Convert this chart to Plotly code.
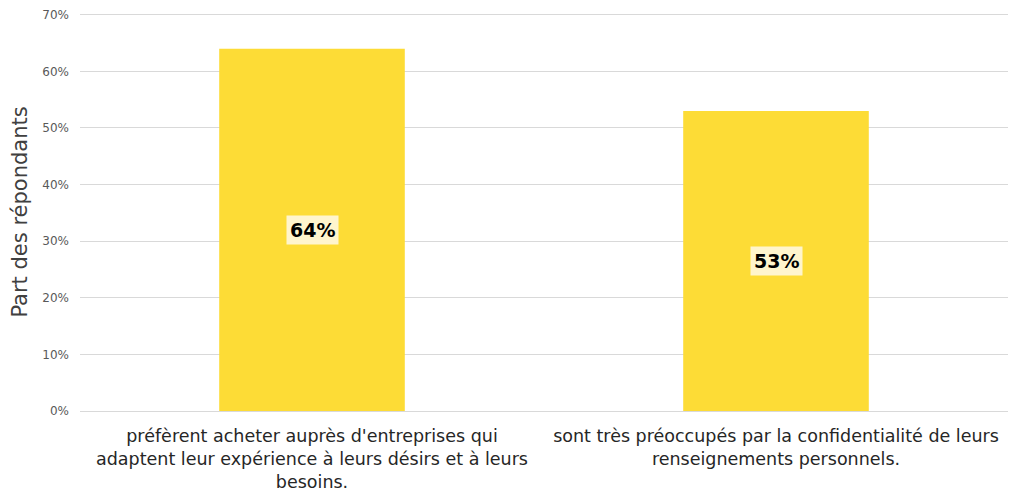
import plotly.graph_objects as go

categories = [
    "préfèrent acheter auprès d'entreprises qui<br>adaptent leur expérience à leurs désirs et à leurs<br>besoins.",
    "sont très préoccupés par la confidentialité de leurs<br>renseignements personnels.",
]
values = [64, 53]
value_labels = ["64%", "53%"]
y_ticks = [0, 10, 20, 30, 40, 50, 60, 70]
y_tick_labels = ["0%", "10%", "20%", "30%", "40%", "50%", "60%", "70%"]

FONT = "Century Gothic, DejaVu Sans, sans-serif"

fig = go.Figure()
fig.add_trace(go.Bar(
    x=categories,
    y=values,
    marker=dict(color="#FDDC36", line=dict(width=0)),
    width=0.4,
    hoverinfo="skip",
))

for c, v, t in zip(categories, values, value_labels):
    fig.add_annotation(
        x=c, y=v / 2, text="<b>" + t + "</b>", showarrow=False,
        font=dict(family=FONT, size=19, color="#000000"),
        bgcolor="rgba(255,246,214,0.95)", borderpad=3,
    )

fig.update_layout(
    width=1016, height=492,
    margin=dict(l=72, r=16, t=5, b=89),
    paper_bgcolor="white", plot_bgcolor="white",
    font=dict(family=FONT, color="#404040"),
    showlegend=False,
    bargap=0.6,
    xaxis=dict(
        automargin=False,
        tickfont=dict(family=FONT, size=17.5, color="#262626"),
        showgrid=False, showline=True, linecolor="#d9d9d9", linewidth=1,
        ticks="", tickangle=0, ticklabelstandoff=9,
    ),
    yaxis=dict(
        automargin=False,
        range=[0, 70.3],
        tickvals=y_ticks, ticktext=y_tick_labels,
        tickfont=dict(family=FONT, size=12, color="#595959"),
        ticklabeloverflow="allow",
        showgrid=True, gridcolor="#d9d9d9", gridwidth=1,
        zeroline=False, showline=False, ticks="",
        ticklabelstandoff=10,
        title=dict(text="Part des répondants", font=dict(family=FONT, size=21, color="#404040"), standoff=12),
    ),
)

fig.write_html("out.html")
